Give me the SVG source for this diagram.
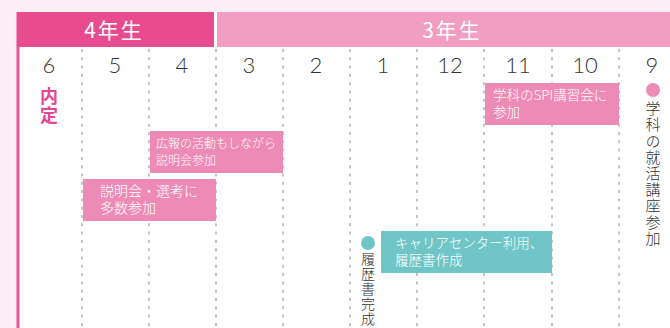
<svg xmlns="http://www.w3.org/2000/svg" width="670" height="328" viewBox="0 0 670 328">
<style>
.month{font-family:"Lato","Noto Sans",sans-serif;font-weight:300;font-size:22px;fill:#333;text-anchor:middle}
.hdr{font-family:"Noto Sans CJK JP",sans-serif;font-weight:400;font-size:21px;fill:#fff;text-anchor:middle;letter-spacing:2px}
.grid{stroke:#c4c4c4;stroke-width:2;stroke-dasharray:3 5.3}
.pbox{fill:#ee8ab6}
.tbox{fill:#70c6c6}
.btxt{font-family:"Noto Sans CJK JP",sans-serif;font-weight:300;font-size:13.5px;fill:#fff}
.vtxt{font-family:"Noto Sans CJK JP",sans-serif;font-weight:300;fill:#333;writing-mode:vertical-rl;text-anchor:start}
</style>
<rect x="0" y="0" width="670" height="328" fill="#fbeef4"/>
<rect x="19" y="47" width="651" height="281" fill="#fff"/>
<rect x="16.5" y="47" width="3" height="281" fill="#e8579a"/>
<g id="header">
<rect x="16.5" y="12" width="197.5" height="35" fill="#e84c8f"/>
<rect x="217" y="12" width="453" height="35" fill="#f19ec2"/>
<rect x="214" y="12" width="3" height="35" fill="#fff"/>
<text class="hdr" x="114" y="38">4年生</text>
<text class="hdr" x="452" y="38">3年生</text>
</g>
<g id="grid">
<line class="grid" x1="82" y1="49" x2="82" y2="328"/>
<line class="grid" x1="149" y1="49" x2="149" y2="328"/>
<line class="grid" x1="216" y1="49" x2="216" y2="328"/>
<line class="grid" x1="283" y1="49" x2="283" y2="328"/>
<line class="grid" x1="350" y1="49" x2="350" y2="328"/>
<line class="grid" x1="417" y1="49" x2="417" y2="328"/>
<line class="grid" x1="484" y1="49" x2="484" y2="328"/>
<line class="grid" x1="552" y1="49" x2="552" y2="328"/>
<line class="grid" x1="619" y1="49" x2="619" y2="328"/>
</g>
<g id="months">
<text class="month" x="49" y="73">6</text>
<text class="month" x="115" y="73">5</text>
<text class="month" x="182" y="73">4</text>
<text class="month" x="249" y="73">3</text>
<text class="month" x="316" y="73">2</text>
<text class="month" x="383" y="73">1</text>
<text class="month" x="450" y="73">12</text>
<text class="month" x="518" y="73">11</text>
<text class="month" x="585" y="73">10</text>
<text class="month" x="652" y="73">9</text>
</g>
<g id="naitei">
<text x="49" y="87" style="font-family:'Noto Sans CJK JP',sans-serif;font-weight:700;font-size:18px;fill:#e8468f;writing-mode:vertical-rl;letter-spacing:1px">内定</text>
</g>
<g id="spi">
<rect class="pbox" x="485" y="83" width="134" height="42"/>
<text class="btxt"><tspan x="493" y="100">学科のSPI講習会に</tspan><tspan x="493" y="117">参加</tspan></text>
</g>
<g id="kouhou">
<rect class="pbox" x="150" y="131" width="133" height="42"/>
<text class="btxt" style="font-size:12px"><tspan x="156" y="148">広報の活動もしながら</tspan><tspan x="156" y="165">説明会参加</tspan></text>
</g>
<g id="setsumei">
<rect class="pbox" x="83" y="179" width="133" height="42"/>
<text class="btxt" style="font-size:14px"><tspan x="100" y="196">説明会・選考に</tspan><tspan x="100" y="213">多数参加</tspan></text>
</g>
<g id="career">
<rect class="tbox" x="381" y="231" width="171" height="42"/>
<text class="btxt"><tspan x="395" y="248">キャリアセンター利用、</tspan><tspan x="395" y="265">履歴書作成</tspan></text>
</g>
<g id="rirekisho">
<circle cx="368" cy="243" r="7" fill="#70c6c6"/>
<text class="vtxt" x="368" y="252" style="font-size:14px;letter-spacing:1px">履歴書完成</text>
</g>
<g id="shukatsu">
<circle cx="653" cy="90" r="7" fill="#ee8ab6"/>
<text class="vtxt" x="653" y="101" style="font-size:15px;letter-spacing:1.2px">学科の就活講座参加</text>
</g>
</svg>
